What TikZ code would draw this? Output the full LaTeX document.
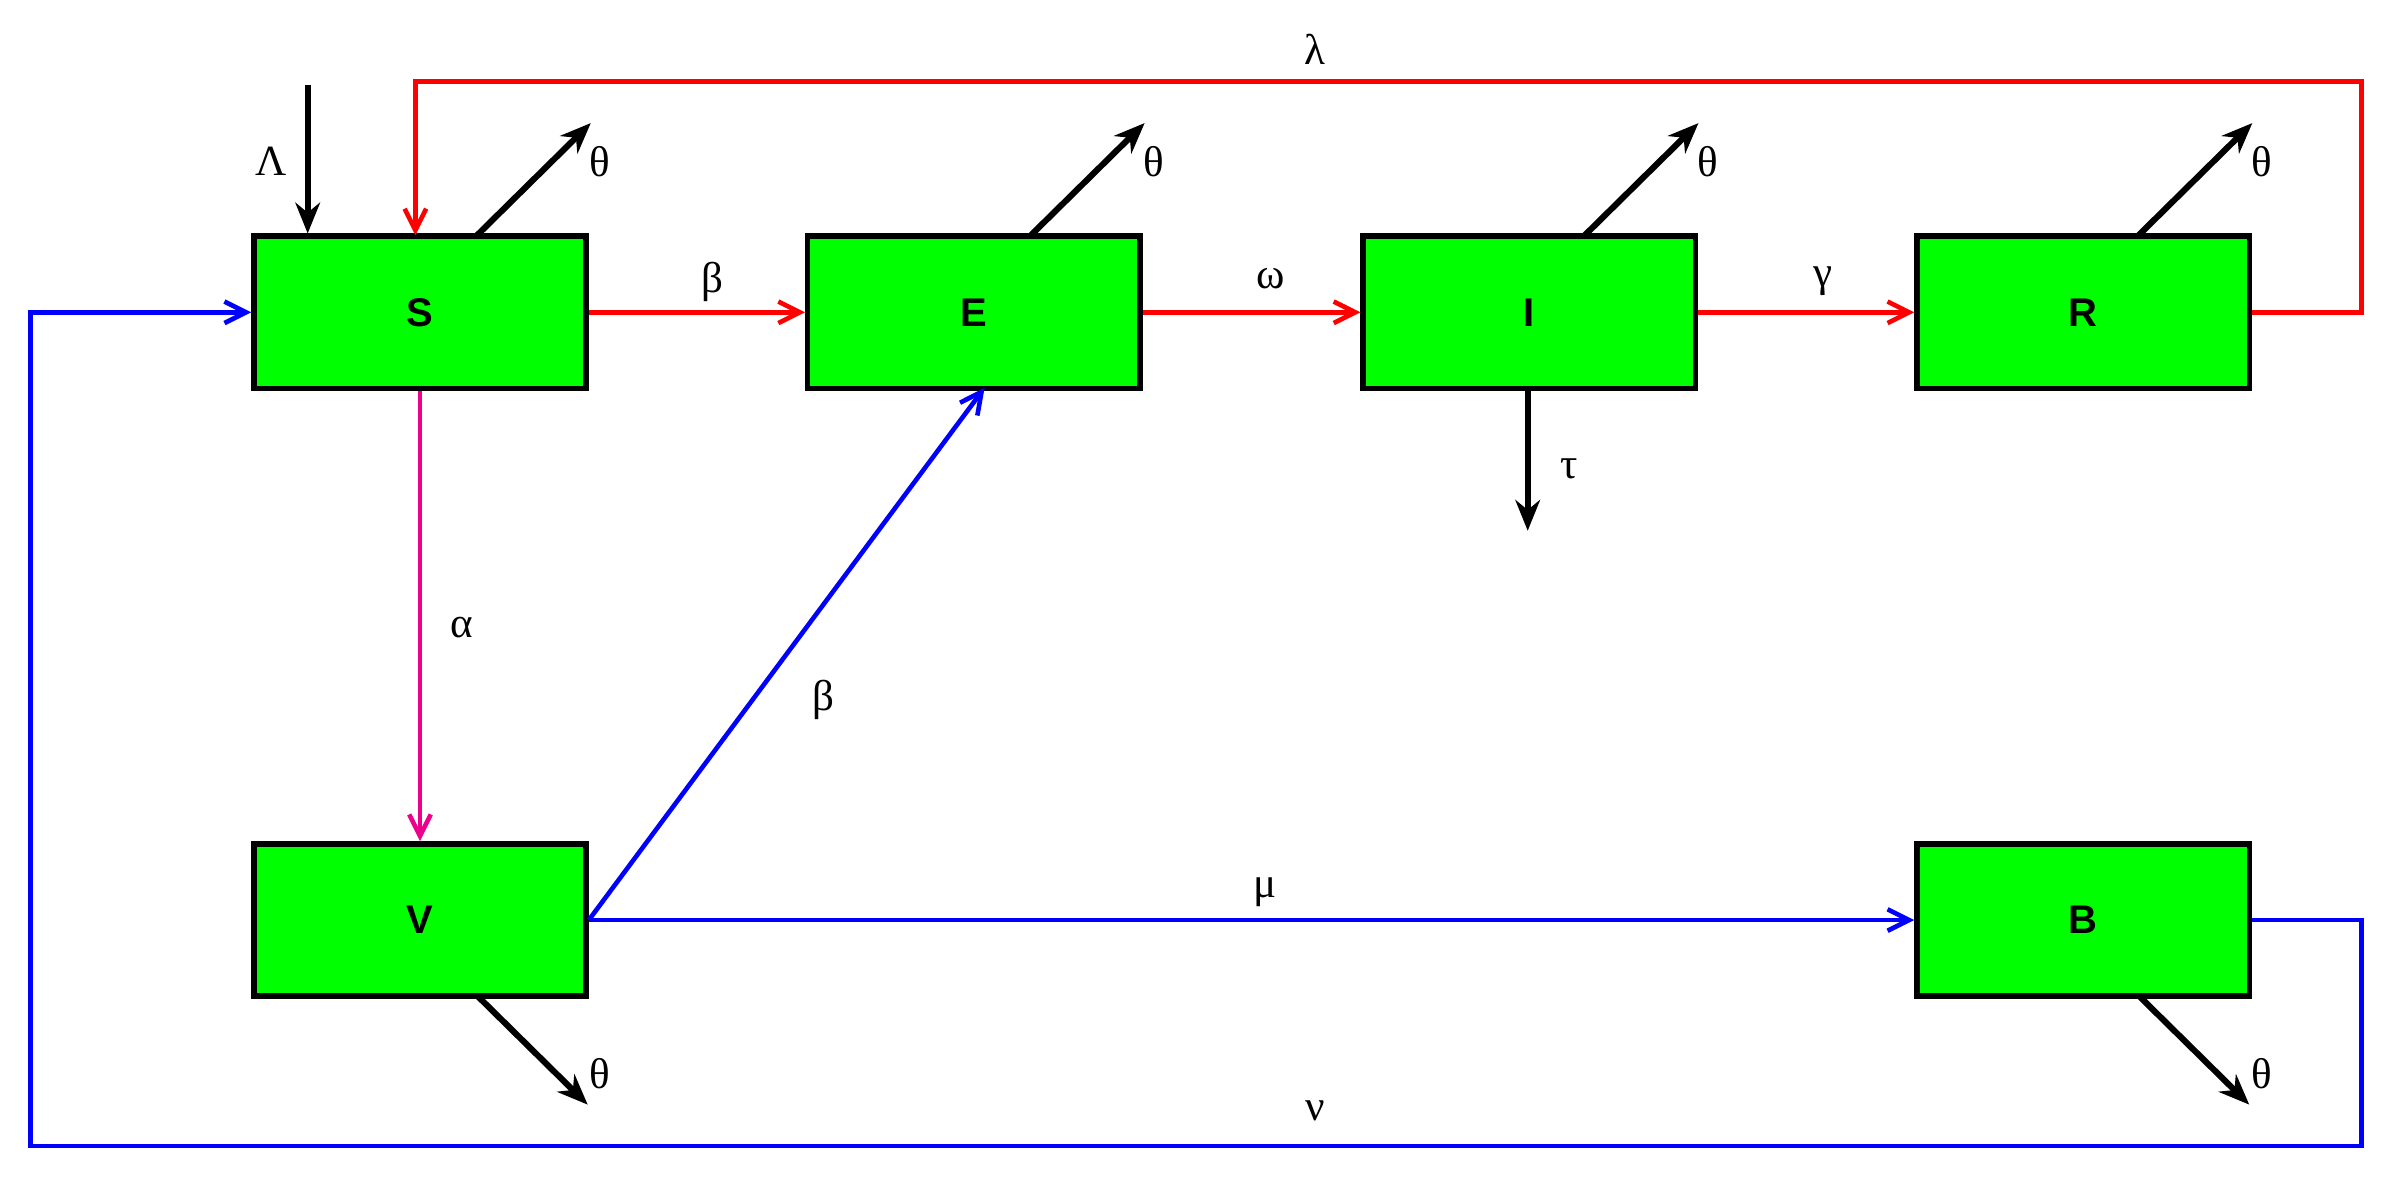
\documentclass[tikz,border=0pt]{standalone}
\usepackage{fontspec}
\setmainfont{Liberation Serif}
\setsansfont{Liberation Sans}
\usetikzlibrary{arrows.meta}
\begin{document}
\begin{tikzpicture}[x=1pt,y=-1pt,
  box/.style={draw=black,line width=3.5pt,fill=green,minimum width=216pt,minimum height=99pt,inner sep=0pt,font=\sffamily\bfseries\fontsize{26}{28}\selectfont},
  lab/.style={font=\fontsize{28}{30}\selectfont},
  flow/.style={line width=3pt,-{Straight Barb[length=14pt,width=14pt,line width=3pt]}},
  outflow/.style={line width=4pt,-{Stealth[length=20pt,width=16pt]}}]
\useasboundingbox (0,0) rectangle (1560,766);
\node[box] (S) at (273,203) {S};
\node[box] (E) at (633,203) {E};
\node[box] (I) at (994,203) {I};
\node[box] (R) at (1354,203) {R};
\node[box] (V) at (273,598) {V};
\node[box] (B) at (1354,598) {B};
% inflow and outflows
\coordinate (lam0) at (200,55);
\draw[outflow] (lam0) -- (lam0 |- S.north);
\node[lab] (Lam) at (176,105) {Λ};
\coordinate (sT) at (310,153); \coordinate (sTe) at (384,80);
\draw[outflow] (sT) -- (sTe); \node[lab] (th1) at (390,105) {θ};
\coordinate (eT) at (670,153); \coordinate (eTe) at (744,80);
\draw[outflow] (eT) -- (eTe); \node[lab] (th2) at (750,105) {θ};
\coordinate (iT) at (1030,153); \coordinate (iTe) at (1104,80);
\draw[outflow] (iT) -- (iTe); \node[lab] (th3) at (1110,105) {θ};
\coordinate (rT) at (1390,153); \coordinate (rTe) at (1464,80);
\draw[outflow] (rT) -- (rTe); \node[lab] (th4) at (1470,105) {θ};
\coordinate (vB) at (310,647); \coordinate (vBe) at (382,718);
\draw[outflow] (vB) -- (vBe); \node[lab] (th5) at (390,698) {θ};
\coordinate (bB) at (1390,647); \coordinate (bBe) at (1462,718);
\draw[outflow] (bB) -- (bBe); \node[lab] (th6) at (1470,698) {θ};
\coordinate (iB) at (993,252); \coordinate (iBe) at (993,345);
\draw[outflow] (iB) -- (iBe); \node[lab] (tau) at (1020,305) {τ};
% red
\draw[flow,red] (S.east) -- (E.west); \node[lab] (b1) at (463,183) {β};
\draw[flow,red] (E.east) -- (I.west); \node[lab] (w) at (826,181) {ω};
\draw[flow,red] (I.east) -- (R.west); \node[lab] (g) at (1185,183) {γ};
\draw[flow,red] (R.east) -- (1535,203) -- (1535,53) -- (270,53) -- (270,153);
\node[lab] (l) at (855,32) {λ};
% magenta
\draw[flow,magenta] (S.south) -- (V.north); \node[lab] (a) at (300,408) {α};
% blue
\draw[flow,blue] (V.east) -- (640,252); \node[lab] (b2) at (535,455) {β};
\draw[flow,blue] (V.east) -- (B.west); \node[lab] (mu) at (822,580) {μ};
\draw[flow,blue] (B.east) -- (1535,598) -- (1535,745) -- (20,745) -- (20,203) -- (S.west);
\node[lab] (nu) at (855,722) {ν};
\end{tikzpicture}
\end{document}
